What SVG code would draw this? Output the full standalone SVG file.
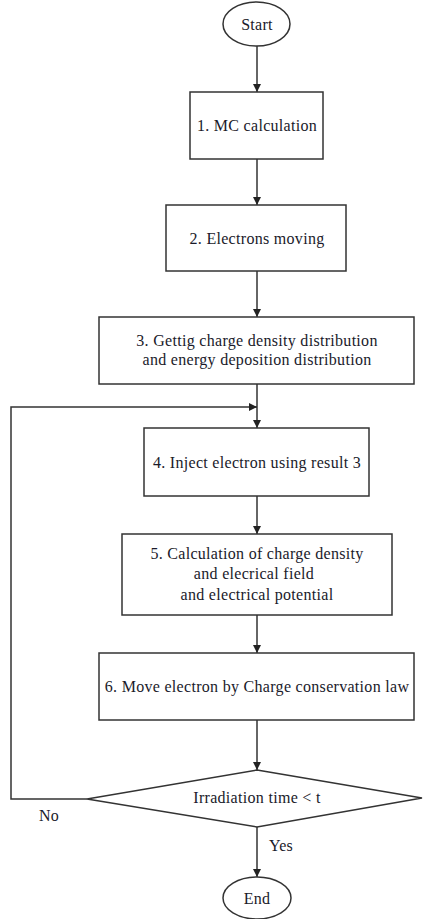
<svg xmlns="http://www.w3.org/2000/svg" width="423" height="919" viewBox="0 0 423 919">
<defs>
<style>
.n{fill:#fff;stroke:#333;stroke-width:1.5}
.t{font-family:"Liberation Serif","Times New Roman",serif;font-size:16px;letter-spacing:0.3px;fill:#1a1a2a;text-anchor:middle}
.c{fill:none;stroke:#333;stroke-width:1.5}
</style>
<marker id="ah" viewBox="0 0 10 10" refX="10" refY="5" markerWidth="8" markerHeight="8" markerUnits="userSpaceOnUse" orient="auto">
<path d="M0,0 L10,5 L0,10 z" fill="#222"/>
</marker>
</defs>
<rect width="423" height="919" fill="#fff"/>
<g id="connectors">
<path class="c" d="M257,46 V92" marker-end="url(#ah)"/>
<path class="c" d="M257,159 V205" marker-end="url(#ah)"/>
<path class="c" d="M257,271 V317" marker-end="url(#ah)"/>
<path class="c" d="M257,384 V428" marker-end="url(#ah)"/>
<path class="c" d="M87,799 H11 V407 H257" marker-end="url(#ah)"/>
<path class="c" d="M257,496 V534" marker-end="url(#ah)"/>
<path class="c" d="M257,615 V653" marker-end="url(#ah)"/>
<path class="c" d="M257,720 V770" marker-end="url(#ah)"/>
<path class="c" d="M257,827 V877" marker-end="url(#ah)"/>
<text class="t" x="49" y="821" fill="#444">No</text>
<text class="t" x="281" y="851" fill="#444">Yes</text>
</g>
<g id="start">
<ellipse class="n" cx="256.5" cy="24" rx="33.5" ry="22"/>
<text class="t" x="257" y="30">Start</text>
</g>
<g id="step1">
<rect class="n" x="190" y="92" width="133" height="67"/>
<text class="t" x="257" y="131">1. MC calculation</text>
</g>
<g id="step2">
<rect class="n" x="166" y="205" width="180" height="66"/>
<text class="t" x="257" y="244">2. Electrons moving</text>
</g>
<g id="step3">
<rect class="n" x="99" y="317" width="315" height="67"/>
<text class="t" x="257" y="346">3. Gettig charge density distribution</text>
<text class="t" x="257" y="365">and energy deposition distribution</text>
</g>
<g id="step4">
<rect class="n" x="144" y="428" width="225" height="68"/>
<text class="t" x="257" y="468">4. Inject electron using result 3</text>
</g>
<g id="step5">
<rect class="n" x="122" y="534" width="270" height="81"/>
<text class="t" x="257" y="559">5. Calculation of charge density</text>
<text class="t" x="254" y="579">and elecrical field</text>
<text class="t" x="257" y="600">and electrical potential</text>
</g>
<g id="step6">
<rect class="n" x="99" y="653" width="315" height="67"/>
<text class="t" x="257" y="692">6. Move electron by Charge conservation law</text>
</g>
<g id="decision">
<polygon class="n" points="257,770 422,798 257,827 87,799"/>
<text class="t" x="257" y="803">Irradiation time &lt; t</text>
</g>
<g id="end">
<ellipse class="n" cx="257" cy="898" rx="34" ry="21"/>
<text class="t" x="257" y="904">End</text>
</g>
</svg>
